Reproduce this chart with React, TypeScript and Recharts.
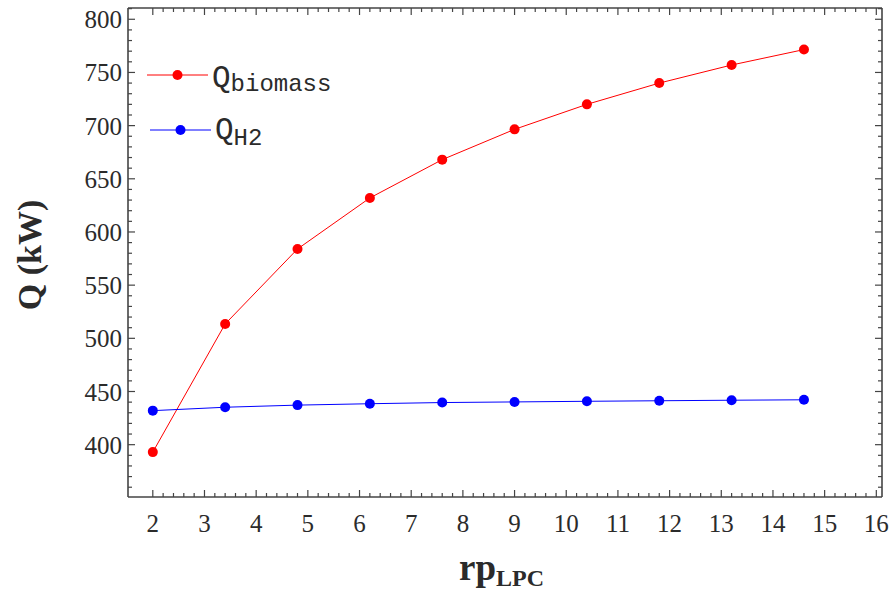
import React from "react";
import { Legend, Line, LineChart, XAxis, YAxis } from "recharts";

// pressure ratio of the low-pressure compressor
const rpValues = [2, 3.4, 4.8, 6.2, 7.6, 9, 10.4, 11.8, 13.2, 14.6];
// heat duty (kW)
const qBiomass = [393, 513.5, 584, 632, 668, 696.5, 720, 740, 757, 771.5];
const qH2 = [432, 435.2, 437.2, 438.5, 439.6, 440.2, 440.8, 441.3, 441.8, 442.2];

const xMajorTicks = [2, 3, 4, 5, 6, 7, 8, 9, 10, 11, 12, 13, 14, 15, 16];
const yMajorTicks = [400, 450, 500, 550, 600, 650, 700, 750, 800];

const seriesNames = ["biomass", "H2"];
const seriesColors = ["#ff0000", "#0000ff"];

const data = rpValues.map((rp, i) => ({ rp, biomass: qBiomass[i], h2: qH2[i] }));

// minor ticks: 5 per unit on x, 5 per 50 kW on y
const xTicks: number[] = [];
for (let k = 0; k <= 70; k++) xTicks.push(+(2 + k * 0.2).toFixed(1));
const yTicks: number[] = [];
for (let v = 360; v <= 810; v += 10) yTicks.push(v);

const X_DOMAIN: [number, number] = [1.52, 16.11];
const Y_DOMAIN: [number, number] = [350.8, 810.6];

const FRAME = "#444";
const LABEL = "#2b2b2b";
const SERIF = "'Liberation Serif', 'Times New Roman', serif";
const MONO = "'Liberation Mono', 'Courier New', monospace";

const isMajorX = (v: number) => xMajorTicks.some((t) => Math.abs(t - v) < 1e-6);
const isMajorY = (v: number) => yMajorTicks.includes(v);

const BottomTick = (props: any) => {
  const { x, y, payload } = props;
  const major = isMajorX(payload.value);
  return (
    <g>
      <line x1={x} y1={y} x2={x} y2={y - (major ? 7 : 4)} stroke={FRAME} strokeWidth={1.2} />
      {major && (
        <text x={x} y={y + 35} textAnchor="middle" fontFamily={SERIF} fontSize={25} fill={LABEL}>
          {payload.value}
        </text>
      )}
    </g>
  );
};

const TopTick = (props: any) => {
  const { x, y, payload } = props;
  const major = isMajorX(payload.value);
  return <line x1={x} y1={y} x2={x} y2={y + (major ? 7 : 4)} stroke={FRAME} strokeWidth={1.2} />;
};

const LeftTick = (props: any) => {
  const { x, y, payload } = props;
  const major = isMajorY(payload.value);
  return (
    <g>
      <line x1={x} y1={y} x2={x + (major ? 7 : 4)} y2={y} stroke={FRAME} strokeWidth={1.2} />
      {major && (
        <text x={x - 6} y={y + 9} textAnchor="end" fontFamily={SERIF} fontSize={25} fill={LABEL}>
          {payload.value}
        </text>
      )}
    </g>
  );
};

const RightTick = (props: any) => {
  const { x, y, payload } = props;
  const major = isMajorY(payload.value);
  return <line x1={x} y1={y} x2={x - (major ? 7 : 4)} y2={y} stroke={FRAME} strokeWidth={1.2} />;
};

// legend rows sit inside the frame, upper left
const legendRows = [
  { y: 75, x0: 147, x1: 208, tx: 212, qBase: 87, subBase: 91 },
  { y: 130, x0: 150, x1: 211, tx: 215, qBase: 139, subBase: 145 },
];

const LegendContent = (props: any) => {
  const payload = props.payload || [];
  return (
    <svg width={360} height={170} style={{ overflow: "visible" }}>
      {payload.map((entry: any) => {
        const row = legendRows[seriesNames.indexOf(entry.value)];
        if (!row) return null;
        return (
          <g key={entry.value}>
            <line x1={row.x0} y1={row.y} x2={row.x1} y2={row.y} stroke={entry.color} strokeWidth={1} />
            <circle cx={(row.x0 + row.x1) / 2} cy={row.y} r={5} fill={entry.color} />
            <text x={row.tx} y={row.qBase} fontFamily={MONO} fontSize={31} fill={LABEL}>
              Q
              <tspan fontSize={24} dy={row.subBase - row.qBase}>
                {entry.value}
              </tspan>
            </text>
          </g>
        );
      })}
    </svg>
  );
};

export default function App() {
  return (
    <div style={{ position: "absolute", left: 0, top: 0, width: 889, height: 594, background: "#fff" }}>
      <LineChart width={889} height={594} data={data} margin={{ top: 7, right: 6, bottom: 0, left: 0 }}>
        <XAxis
          xAxisId="x"
          dataKey="rp"
          type="number"
          domain={X_DOMAIN}
          allowDataOverflow
          ticks={xTicks}
          interval={0}
          height={97}
          tickSize={0}
          tickMargin={0}
          tickLine={false}
          axisLine={{ stroke: FRAME, strokeWidth: 1.6 }}
          tick={BottomTick}
        />
        <XAxis
          xAxisId="top"
          orientation="top"
          dataKey="rp"
          type="number"
          domain={X_DOMAIN}
          allowDataOverflow
          ticks={xTicks}
          interval={0}
          height={1}
          tickSize={0}
          tickMargin={0}
          tickLine={false}
          axisLine={{ stroke: FRAME, strokeWidth: 1.6 }}
          tick={TopTick}
        />
        <YAxis
          yAxisId="y"
          type="number"
          domain={Y_DOMAIN}
          allowDataOverflow
          ticks={yTicks}
          interval={0}
          width={128}
          tickSize={0}
          tickMargin={0}
          tickLine={false}
          axisLine={{ stroke: FRAME, strokeWidth: 1.6 }}
          tick={LeftTick}
        />
        <YAxis
          yAxisId="right"
          orientation="right"
          type="number"
          domain={Y_DOMAIN}
          allowDataOverflow
          ticks={yTicks}
          interval={0}
          width={1}
          tickSize={0}
          tickMargin={0}
          tickLine={false}
          axisLine={{ stroke: FRAME, strokeWidth: 1.6 }}
          tick={RightTick}
        />
        <Legend
          layout="vertical"
          align="center"
          verticalAlign="middle"
          wrapperStyle={{ left: 0, top: 0, width: 360, height: 170 }}
          content={LegendContent}
        />
        <Line
          xAxisId="x"
          yAxisId="y"
          dataKey="biomass"
          name={seriesNames[0]}
          type="linear"
          stroke={seriesColors[0]}
          strokeWidth={1}
          dot={{ r: 5, fill: seriesColors[0], stroke: "none" }}
          activeDot={false}
          isAnimationActive={false}
        />
        <Line
          xAxisId="x"
          yAxisId="y"
          dataKey="h2"
          name={seriesNames[1]}
          type="linear"
          stroke={seriesColors[1]}
          strokeWidth={1}
          dot={{ r: 5, fill: seriesColors[1], stroke: "none" }}
          activeDot={false}
          isAnimationActive={false}
        />
      </LineChart>
      <svg width={889} height={594} style={{ position: "absolute", left: 0, top: 0, pointerEvents: "none" }}>
        <text
          transform="translate(41,255) rotate(-90)"
          textAnchor="middle"
          fontFamily={SERIF}
          fontWeight="bold"
          fontSize={34}
          fill={LABEL}
        >
          Q (kW)
        </text>
        <text x={459} y={580} fontFamily={SERIF} fontWeight="bold" fontSize={37} fill={LABEL}>
          rp
          <tspan fontSize={24} dy={6}>
            LPC
          </tspan>
        </text>
      </svg>
    </div>
  );
}
